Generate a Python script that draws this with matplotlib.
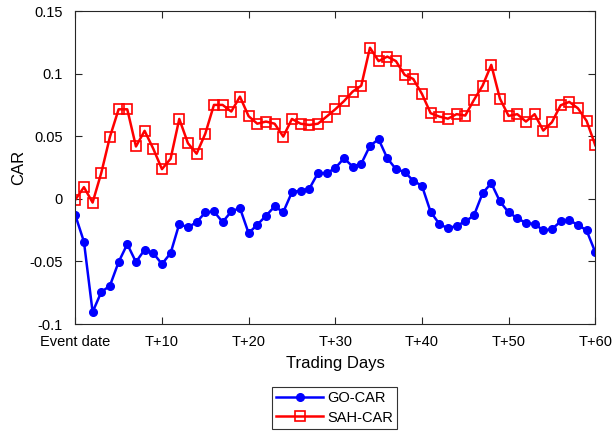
import matplotlib
matplotlib.use("Agg")
import matplotlib.pyplot as plt
import numpy as np

plt.rcParams['font.family'] = ['Liberation Sans', 'DejaVu Sans']

days = list(range(61))
go_car = [-0.013, -0.0343, -0.0904, -0.0745, -0.0694, -0.0505, -0.0362, -0.0505, -0.0407, -0.0434,
          -0.0521, -0.0434, -0.020, -0.0229, -0.0186, -0.0109, -0.0101, -0.0186, -0.0101, -0.0074,
          -0.0274, -0.0207, -0.0136, -0.0061, -0.0106, 0.0053, 0.0066, 0.008, 0.0205, 0.0205,
          0.0245, 0.0324, 0.0258, 0.028, 0.0423, 0.0476, 0.0324, 0.0237, 0.0215, 0.0144,
          0.0104, -0.0104, -0.020, -0.0237, -0.0215, -0.0181, -0.0133, 0.0045, 0.0125, -0.0021,
          -0.0109, -0.0154, -0.0194, -0.020, -0.0253, -0.0242, -0.0181, -0.0173, -0.0207, -0.0253,
          -0.0426]
sah_car = [-0.0008, 0.0093, -0.003, 0.0207, 0.0495, 0.0715, 0.0715, 0.0418, 0.0543, 0.040,
           0.0237, 0.032, 0.0638, 0.0444, 0.036, 0.052, 0.075, 0.075, 0.0697, 0.0816,
           0.066, 0.060, 0.0617, 0.060, 0.0497, 0.0638, 0.060, 0.059, 0.060, 0.0657,
           0.0715, 0.078, 0.0856, 0.0904, 0.1207, 0.110, 0.1136, 0.110, 0.099, 0.0957,
           0.0838, 0.0684, 0.0657, 0.064, 0.0676, 0.0665, 0.079, 0.0904, 0.107, 0.080,
           0.0662, 0.0676, 0.0617, 0.0676, 0.0545, 0.0612, 0.0747, 0.0774, 0.0723, 0.0622,
           0.0428]
xtick_pos = [0, 10, 20, 30, 40, 50, 60]
xtick_labels = ['Event date', 'T+10', 'T+20', 'T+30', 'T+40', 'T+50', 'T+60']
ytick_pos = [-0.1, -0.05, 0, 0.05, 0.1, 0.15]
ytick_labels = ['-0.1', '-0.05', '0', '0.05', '0.1', '0.15']

fig = plt.figure(figsize=(6.14, 4.32), dpi=100)
ax = fig.add_axes([0.1226, 0.25, 0.8469, 0.7245])

ax.plot(days, go_car, '-o', color='#0000ff', lw=1.8, markersize=5.5,
        markerfacecolor='#0000ff', markeredgecolor='#0000ff', label='GO-CAR')
ax.plot(days, sah_car, '-s', color='#ff0000', lw=1.8, markersize=6.5,
        markerfacecolor='none', markeredgecolor='#ff0000', markeredgewidth=1.2, label='SAH-CAR')

ax.set_xlim(0, 60)
ax.set_ylim(-0.1, 0.15)
ax.set_xticks(xtick_pos)
ax.set_xticklabels(xtick_labels, fontsize=10.5)
ax.set_yticks(ytick_pos)
ax.set_yticklabels(ytick_labels, fontsize=10.5)
ax.tick_params(direction='in', top=True, right=True, length=5, width=0.8, colors='#262626', labelcolor='black')
ax.tick_params(axis='x', pad=8)
ax.tick_params(axis='y', pad=9)
for s in ax.spines.values():
    s.set_color('#262626')
    s.set_linewidth(0.8)
ax.set_xlabel('Trading Days', fontsize=12, labelpad=5)
ax.set_ylabel('CAR', fontsize=12, labelpad=2)

leg = fig.legend(loc='upper center', bbox_to_anchor=(0.545, 0.104), ncol=1, fontsize=10.5,
                 frameon=True, fancybox=False, edgecolor='black', handlelength=3.2,
                 borderpad=0.3, labelspacing=0.35, handletextpad=0.3, borderaxespad=0)
leg.get_frame().set_linewidth(0.8)

fig.savefig('out.png', dpi=100)
